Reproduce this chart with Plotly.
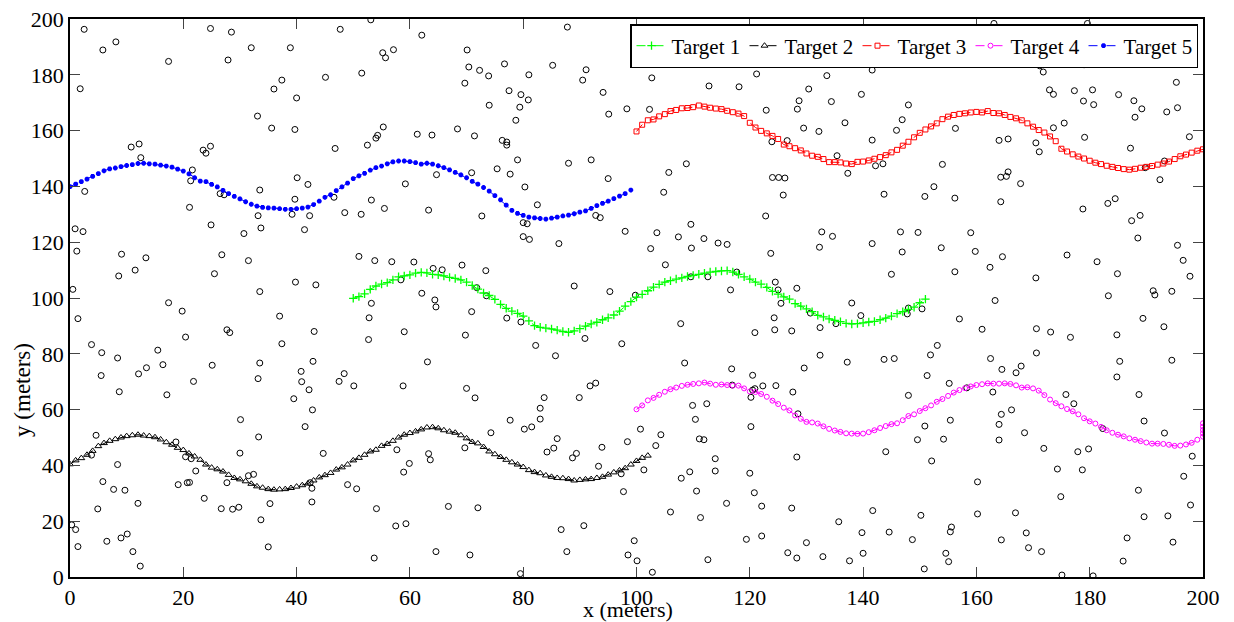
import plotly.graph_objects as go

# ---------------- data ----------------
# Target 5 (blue), sampled at x = 0..99 m
t5_x0, t5_n = 0, 100
t5_y = [139.9,140.8,141.7,142.6,143.6,144.6,145.6,146.3,146.6,147.1,
        147.5,147.8,148.2,148.3,148.1,148.0,147.6,147.3,146.9,146.2,
        145.5,144.5,143.1,141.9,141.7,140.7,139.8,138.6,137.4,136.4,
        135.5,134.5,133.6,132.9,132.5,132.3,132.2,132.0,131.8,131.8,
        132.0,132.2,132.6,133.5,134.7,136.1,137.0,138.5,139.8,141.2,
        142.8,143.8,144.7,145.8,146.7,147.3,148.1,148.8,149.1,149.1,
        148.9,148.5,148.0,148.3,148.0,147.4,146.7,145.9,145.0,144.1,
        143.1,141.8,140.8,139.6,138.3,136.7,135.2,133.3,131.4,130.3,
        129.6,129.0,128.7,128.5,128.3,128.6,129.0,129.4,129.7,130.2,
        130.8,131.2,132.1,133.1,133.9,134.7,135.6,136.5,137.4,138.7]

# Target 2 (black triangles), x = 0..102 m
t2_x0, t2_n = 0, 103
t2_y = [40.4,41.8,42.6,43.8,45.2,46.9,48.0,48.8,49.4,50.0,
        50.5,50.8,51.0,50.7,50.5,50.1,49.3,48.3,47.4,46.3,
        45.5,44.3,43.2,42.0,40.3,39.2,38.6,37.8,36.6,35.5,
        35.0,34.3,33.4,32.5,32.0,31.5,31.3,31.4,31.5,31.9,
        32.4,32.9,33.5,34.6,35.7,36.5,37.3,38.5,39.3,40.3,
        41.8,42.7,43.8,45.0,45.6,47.0,47.7,48.8,50.0,51.0,
        51.6,52.2,52.9,53.6,53.7,53.3,52.6,52.1,51.7,50.8,
        49.7,48.4,47.9,46.6,45.0,44.0,43.0,42.0,41.1,40.3,
        39.4,38.3,37.6,37.2,36.4,35.9,35.5,35.4,35.1,34.6,
        34.8,35.0,35.1,35.5,35.9,36.7,37.5,38.2,39.0,40.3,
        41.6,42.7,43.5]

# Target 1 (green), x = 50..151 m
t1_x0, t1_n = 50, 102
t1_y = [99.9,100.5,101.5,103.1,104.3,105.0,105.5,106.5,107.6,107.9,
        108.3,108.9,109.2,109.0,108.5,108.3,107.9,107.4,107.0,106.5,
        105.7,104.5,103.2,101.8,100.9,99.5,97.7,96.3,95.3,94.5,
        93.5,91.8,90.1,89.5,89.2,88.9,88.5,88.0,87.7,88.2,
        89.0,89.9,90.7,91.3,92.2,92.9,93.9,95.3,97.1,98.7,
        100.3,101.3,102.6,103.9,104.9,105.7,106.2,106.8,107.2,107.7,
        108.1,108.5,108.9,109.3,109.5,109.7,109.8,109.3,108.5,107.6,
        106.8,105.7,105.0,103.8,102.4,101.4,100.4,99.6,98.0,97.1,
        96.1,95.1,93.8,93.2,92.5,92.0,91.5,90.9,90.7,90.8,
        91.1,91.4,91.6,92.2,92.8,93.5,94.4,95.1,95.9,96.7,
        98.3,99.6]

# Target 3 (red), x = 100..200 m
t3_x0, t3_n = 100, 101
t3_y = [159.7,162.1,163.7,164.0,165.1,165.9,167.0,167.4,168.0,168.1,
        168.4,169.0,168.6,168.2,167.9,167.7,167.1,166.6,166.1,165.2,
        162.8,161.1,159.9,159.0,158.1,157.0,155.0,154.4,153.7,152.9,
        151.8,151.0,150.6,149.8,148.7,148.7,148.6,148.2,148.0,148.8,
        148.9,149.3,149.9,150.5,151.2,152.2,153.1,154.6,156.0,157.6,
        159.2,160.4,161.5,162.6,164.1,165.0,165.6,166.0,166.2,166.5,
        166.7,166.5,167.0,166.3,166.2,165.6,164.9,164.4,163.7,162.6,
        161.4,160.2,159.3,157.9,156.2,153.5,152.5,151.5,150.7,150.0,
        149.2,148.5,148.0,147.4,147.0,146.6,146.2,146.0,146.3,146.7,
        147.0,147.3,147.8,148.2,148.9,149.8,150.8,151.4,152.1,152.8,
        153.3]

# Target 4 (magenta), x = 100..200 m, then extra points piled at x = 200
t4_x0, t4_n = 100, 101
t4_y = [60.1,61.5,63.3,64.2,65.3,66.4,67.3,67.9,68.5,68.9,
        69.2,69.4,69.7,69.3,68.9,69.0,68.8,68.6,68.6,67.6,
        66.5,66.3,65.6,64.6,63.2,62.0,60.7,59.7,57.9,56.7,
        55.6,55.4,55.0,54.0,53.1,52.5,52.0,51.5,51.4,51.3,
        51.4,51.9,52.6,53.4,54.1,54.8,55.1,56.2,57.7,58.3,
        59.5,60.5,61.5,62.8,63.8,64.9,66.1,67.0,67.7,68.3,
        68.8,69.1,69.4,69.3,69.3,69.4,69.2,68.7,67.9,68.0,
        67.6,66.8,65.2,63.6,62.3,61.2,60.2,59.4,58.3,56.9,
        55.8,55.0,53.8,52.6,51.7,51.0,50.4,49.7,49.2,48.7,
        48.2,47.8,47.8,47.7,47.4,47.0,47.1,47.5,48.1,49.2,
        50.3]
t4_end_x = [200, 200, 200, 200]
t4_end_y = [51.5, 52.7, 53.9, 55.1]

# Clutter (false alarms), black open circles
clutter_x = [
 2.5,5.8,8.1,17.4,24.8,28.5,27.9,32.0,38.9,47.7,1.8,37.4,36.0,40.0,45.1,33.1,35.6,39.7,10.8,12.2,
 12.5,23.5,24.0,24.8,46.8,21.6,21.3,2.6,33.5,40.1,42.0,26.5,27.2,39.7,46.6,21.1,
 53.1,62.1,55.2,55.7,57.1,51.5,70.1,70.4,72.3,73.9,69.7,76.7,81.0,85.2,87.8,91.1,90.5,94.1,95.1,98.3,
 77.5,79.6,80.9,79.4,74.0,78.7,55.3,54.3,54.0,52.5,61.3,63.9,68.4,71.4,76.3,77.1,77.1,79.0,88.0,92.0,
 95.0,64.7,70.9,75.4,77.7,59.2,80.3,53.2,55.5,82.5,63.3,
 102.7,102.3,112.8,118.1,121.2,123.2,122.9,130.4,128.7,128.4,133.6,135.7,134.4,139.7,141.6,136.8,129.5,132.2,
 123.9,126.6,135.4,141.6,142.2,143.5,137.3,108.8,105.7,124.0,125.1,126.2,104.8,125.9,143.7,148.0,146.9,145.9,
 163.1,179.6,171.2,171.8,179.0,172.9,173.6,177.3,180.5,178.9,180.7,185.1,187.8,189.2,188.0,195.3,195.5,193.6,
 197.6,156.3,164.0,165.6,175.5,173.6,170.5,171.1,179.1,187.2,189.8,193.2,192.4,154.0,152.5,150.9,156.2,164.3,
 165.3,165.6,167.8,164.3,183.2,184.5,178.8,
 0.9,2.3,1.2,9.1,13.4,11.5,8.6,24.9,26.8,25.5,31.5,30.7,33.7,33.2,39.2,42.3,41.4,48.5,39.8,43.4,
 33.5,0.5,1.4,17.4,19.8,37.0,27.7,28.2,20.4,43.1,37.4,3.8,5.6,8.4,15.5,16.4,13.5,12.1,5.5,25.1,
 21.8,8.7,17.1,33.5,33.2,42.9,40.8,40.9,42.2,39.5,48.4,47.5,
 51.4,72.7,80.0,80.7,80.0,81.1,86.3,92.8,93.6,98.0,51.0,53.8,56.8,60.7,64.1,65.7,69.2,73.4,58.4,62.1,
 64.4,64.6,71.8,73.5,53.2,52.8,52.7,59.0,70.9,69.8,77.1,79.6,82.2,85.7,89.0,95.3,90.9,97.4,63.1,50.1,
 58.8,70.0,71.5,83.7,89.9,91.8,92.8,
 103.6,102.5,107.4,109.6,109.7,111.9,114.4,116.0,105.1,122.8,123.7,132.7,134.6,132.3,141.6,146.6,146.9,145.0,
 99.8,109.6,112.6,117.7,116.6,124.5,125.0,128.3,125.5,130.7,138.0,139.6,148.0,147.8,135.2,107.8,124.3,124.4,
 120.9,127.4,132.4,108.5,132.4,137.2,143.7,145.5,129.6,116.8,120.5,122.3,124.6,116.9,120.5,120.9,127.6,120.2,148.0,
 187.4,188.9,188.5,195.5,196.5,197.7,149.7,159.0,153.8,159.8,164.6,156.2,162.4,170.5,176.0,181.3,184.9,183.3,
 191.2,191.5,194.5,163.3,150.4,157.0,161.0,170.6,173.1,176.6,184.8,189.4,193.1,153.1,151.9,170.6,162.5,164.5,
 167.9,167.0,185.3,194.5,184.8,151.3,155.2,158.3,162.9,175.8,188.7,
 42.8,41.5,30.1,33.3,30.0,44.7,4.6,3.8,8.4,18.7,20.4,21.4,22.2,5.8,7.7,9.7,19.1,20.7,21.1,23.7,
 4.9,12.0,27.7,31.5,32.4,26.7,28.7,29.8,35.3,33.7,35.0,42.7,42.7,42.4,49.0,0.3,1.0,1.4,6.5,9.0,
 10.1,11.1,12.4,
 83.0,83.0,77.7,80.2,81.5,74.3,86.0,85.4,84.2,89.4,88.7,93.9,98.4,93.3,97.3,97.7,57.7,63.3,63.6,69.7,
 59.9,58.9,50.6,54.1,57.5,59.3,66.8,72.0,53.7,64.6,70.6,79.5,86.7,90.7,87.7,98.5,
 128.5,120.2,109.9,112.4,110.4,111.1,111.9,100.7,104.3,103.4,101.3,113.9,113.9,109.4,107.9,110.6,111.3,106.0,
 115.9,120.0,120.8,122.1,122.1,119.4,128.3,127.4,130.0,126.7,128.3,132.9,135.7,139.8,137.6,140.0,141.7,144.0,
 144.6,99.6,100.1,102.8,112.6,
 177.2,166.2,164.4,164.0,164.0,168.5,171.9,177.9,179.8,178.7,174.3,174.9,182.3,189.6,193.2,198.1,196.6,197.8,
 188.6,189.6,193.8,194.7,186.6,185.9,180.6,175.1,171.5,169.2,168.8,166.9,164.4,160.2,160.2,155.4,154.2,150.9,
 149.6,152.1,150.2,148.7,155.6,155.4,154.6,155.1,150.8]
clutter_y = [
 196.3,188.9,191.8,184.8,196.6,195.3,185.3,189.7,189.7,196.3,175.0,178.1,174.9,171.7,179.1,165.2,160.9,160.4,154.1,155.2,
 150.3,153.0,151.9,154.4,153.6,145.9,142.0,138.2,138.7,143.1,140.7,137.4,137.0,135.4,136.1,132.5,
 199.7,194.2,187.9,186.1,189.0,180.6,188.9,182.8,181.6,179.6,177.0,183.9,180.0,183.4,197.1,181.8,178.1,173.7,165.9,167.8,
 174.3,172.9,171.0,168.4,169.1,163.7,161.3,158.3,157.3,154.8,158.7,158.4,160.6,158.1,156.5,155.9,154.8,149.5,148.3,149.5,
 142.8,144.2,144.9,146.3,144.4,140.9,139.8,135.1,132.1,133.4,131.5,
 178.9,167.6,176.0,175.7,180.3,184.2,167.3,174.9,170.7,167.7,179.7,183.9,170.4,173.0,181.7,162.8,160.9,159.7,
 156.0,156.4,151.0,156.6,147.4,148.1,144.7,148.1,145.0,143.2,143.2,143.0,137.9,136.9,137.2,169.2,163.9,160.1,
 198.4,198.4,183.2,181.0,183.6,174.6,173.0,174.3,174.6,170.6,169.3,172.9,170.7,167.8,164.8,177.3,168.2,166.7,
 157.8,160.8,156.5,157.0,162.7,161.0,155.6,152.4,157.6,153.7,146.7,149.1,142.4,147.9,139.9,136.4,135.8,143.3,
 143.6,145.2,141.0,134.5,133.9,135.6,131.9,
 124.8,123.8,116.8,115.7,114.4,110.0,107.9,126.2,115.5,108.7,113.4,123.1,125.1,129.5,130.0,129.5,124.5,130.6,105.7,104.7,
 102.3,103.1,92.6,98.3,95.3,93.5,88.6,87.6,86.0,88.0,83.6,83.3,80.4,78.5,81.3,76.1,75.0,72.8,72.2,75.9,
 70.1,66.4,65.3,76.7,71.1,77.3,73.7,70.0,67.1,63.9,72.9,70.1,
 130.0,129.4,127.0,126.6,122.0,121.0,119.5,129.6,128.8,123.9,114.9,113.4,113.0,112.9,110.6,110.1,111.8,109.8,106.5,101.7,
 99.3,96.8,103.7,100.8,98.1,92.9,85.1,87.9,95.1,86.7,92.8,91.4,83.0,79.3,104.3,102.3,85.5,83.6,77.1,68.5,
 68.5,67.6,64.2,64.3,64.3,68.5,69.5,
 123.4,117.7,121.9,126.4,117.9,121.3,119.7,119.2,111.9,129.4,116.0,123.7,122.1,118.2,119.5,123.7,116.5,108.5,
 101.0,107.6,107.6,109.3,102.9,105.7,102.9,103.5,98.1,94.6,98.2,93.7,96.4,94.3,90.8,90.8,92.9,88.6,
 87.6,88.2,89.4,76.7,79.5,77.0,78.0,78.3,74.9,74.6,72.3,68.5,68.6,68.8,67.0,67.5,66.3,64.4,65.1,
 127.7,129.6,121.5,118.9,113.5,107.8,123.5,123.4,118.0,116.7,114.8,109.4,111.0,107.2,115.4,113.0,108.7,100.8,
 102.6,101.1,102.4,99.1,96.1,92.5,88.8,89.0,87.8,85.9,86.8,92.7,89.7,83.0,79.6,80.3,78.3,74.4,
 75.6,73.2,77.3,77.7,71.7,72.2,69.4,67.8,66.3,65.4,65.4,
 59.9,53.9,56.4,50.2,44.4,44.3,50.8,43.7,40.3,48.4,43.1,42.4,38.0,34.2,31.4,31.1,33.1,33.8,33.9,28.2,
 24.4,26.4,33.8,36.3,36.8,24.5,24.3,25.0,26.3,20.5,10.8,31.8,26.9,33.8,33.1,18.7,17.0,10.9,12.8,14.0,
 15.4,9.1,3.9,
 60.5,56.6,56.2,53.0,53.8,51.7,49.6,46.2,44.8,44.3,42.7,46.5,48.5,39.7,37.0,30.6,45.6,44.2,42.0,46.3,
 40.7,37.6,31.6,24.5,18.3,19.1,25.3,24.8,6.8,9.1,7.9,1.2,17.0,18.4,9.1,7.9,
 58.5,53.9,61.5,62.1,56.5,49.5,49.2,53.0,51.0,47.1,38.4,42.4,38.0,37.7,35.4,30.8,21.3,23.3,
 26.4,37.2,30.2,25.4,14.7,13.5,43.0,24.7,12.3,8.7,6.8,7.3,19.8,15.9,5.8,8.5,23.8,44.9,
 16.1,13.0,5.8,1.7,6.2,
 62.1,59.9,58.3,54.7,49.1,51.7,46.1,44.9,45.9,38.4,38.7,28.8,53.2,55.9,51.6,43.3,36.1,25.8,
 31.1,21.6,21.9,12.5,14.0,5.7,0.4,0.7,9.1,10.5,15.8,23.0,13.3,34.1,22.6,56.2,49.4,54.1,
 49.2,41.6,22.1,13.4,17.9,16.2,8.5,5.5,2.9]

x_ticks = [0, 20, 40, 60, 80, 100, 120, 140, 160, 180, 200]
y_ticks = [0, 20, 40, 60, 80, 100, 120, 140, 160, 180, 200]
x_title = "x (meters)"
y_title = "y (meters)"

FONT = "Liberation Serif"

def xs(x0, n):
    return list(range(x0, x0 + n))

fig = go.Figure()

fig.add_trace(go.Scatter(
    x=clutter_x, y=clutter_y, mode="markers", showlegend=False,
    marker=dict(symbol="circle-open", size=6, color="black", line=dict(width=1)),
))

targets = [
    ("Target 1", xs(t1_x0, t1_n), t1_y, "#00ff00", "cross-thin", 6, 1.3),
    ("Target 2", xs(t2_x0, t2_n), t2_y, "black", "triangle-up-open", 6, 1),
    ("Target 3", xs(t3_x0, t3_n), t3_y, "#ff0000", "square-open", 5, 1),
    ("Target 4", xs(t4_x0, t4_n) + t4_end_x, t4_y + t4_end_y, "#ff00ff", "circle-open", 5, 1),
    ("Target 5", xs(t5_x0, t5_n), t5_y, "#0000ff", "asterisk-open", 4, 1.8),
]
for name, x, y, c, sym, sz, lw in targets:
    fig.add_trace(go.Scatter(
        x=x, y=y, name=name, mode="lines+markers",
        line=dict(color=c, width=1, dash="dash"),
        marker=dict(symbol=sym, size=sz, color=c, line=dict(color=c, width=lw)),
    ))

axis_common = dict(
    range=[0, 200], showgrid=False, zeroline=False,
    showline=True, linecolor="black", linewidth=1.5, mirror="ticks",
    ticks="inside", ticklen=10, tickwidth=1, tickcolor="#444",
    ticklabeloverflow="allow",
    tickfont=dict(family=FONT, size=22, color="black"),
)
fig.update_xaxes(**axis_common, tickvals=x_ticks)
fig.update_yaxes(**axis_common, tickvals=y_ticks)

fig.add_annotation(text=x_title, xref="paper", yref="paper", x=0.4925, y=-0.059,
                   xanchor="center", yanchor="middle", showarrow=False,
                   font=dict(family=FONT, size=22, color="black"))
fig.add_annotation(text=y_title, xref="paper", yref="paper", x=-0.0425, y=0.335,
                   xanchor="center", yanchor="middle", showarrow=False, textangle=-90,
                   font=dict(family=FONT, size=23, color="black"))

# The page body has an 8 px margin, so the figure is 8 px smaller than the window
fig.update_layout(
    width=1226, height=614,
    margin=dict(l=62, r=31, t=11, b=45, autoexpand=False),
    paper_bgcolor="white", plot_bgcolor="white",
    font=dict(family=FONT, size=21, color="black"),
    legend=dict(
        orientation="h", x=0.9956, xanchor="right", y=0.991, yanchor="top",
        bgcolor="white", bordercolor="black", borderwidth=1.5,
        font=dict(family=FONT, size=21, color="black"),
        itemwidth=30, entrywidth=68, entrywidthmode="pixels", tracegroupgap=0,
    ),
)

fig.write_html("out.html")
